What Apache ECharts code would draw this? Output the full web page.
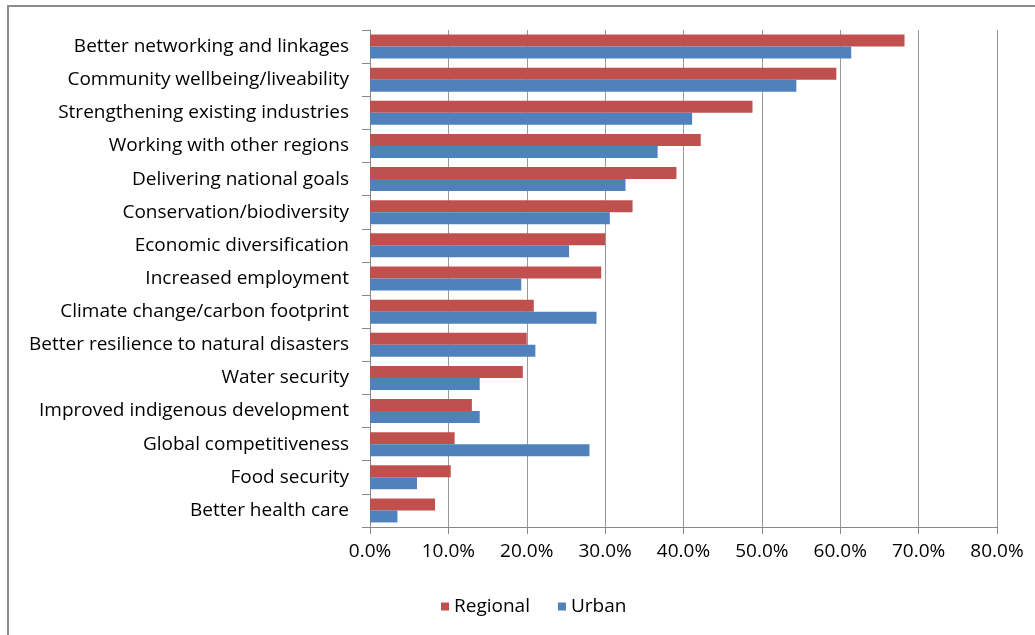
<!DOCTYPE html>
<html>
<head>
<meta charset="utf-8">
<script src="https://cdn.jsdelivr.net/npm/echarts@6/dist/echarts.min.js"></script>
<style>
html,body{margin:0;padding:0;background:#fff;}
#chart{width:1035px;height:635px;}
</style>
</head>
<body>
<div id="chart"></div>
<script>
const categories = [
  "Better networking and linkages",
  "Community wellbeing/liveability",
  "Strengthening existing industries",
  "Working with other regions",
  "Delivering national goals",
  "Conservation/biodiversity",
  "Economic diversification",
  "Increased employment",
  "Climate change/carbon footprint",
  "Better resilience to natural disasters",
  "Water security",
  "Improved indigenous development",
  "Global competitiveness",
  "Food security",
  "Better health care"
];
const regional = [68.2, 59.5, 48.8, 42.2, 39.1, 33.5, 30.0, 29.5, 20.9, 20.0, 19.5, 13.0, 10.8, 10.3, 8.3];
const urban    = [61.4, 54.4, 41.1, 36.7, 32.6, 30.6, 25.4, 19.3, 28.9, 21.1, 14.0, 14.0, 28.0, 6.0, 3.5];
const xTicks = { min: 0, max: 80, interval: 10 };

const FONT = "'Open Sans', 'Noto Sans', sans-serif";
const chart = echarts.init(document.getElementById('chart'));
chart.setOption({
  animation: false,
  backgroundColor: '#ffffff',
  textStyle: { fontFamily: FONT },
  graphic: [{
    type: 'rect',
    shape: { x: 8, y: 6, width: 1100, height: 700 },
    style: { fill: 'none', stroke: '#8c8c8c', lineWidth: 2 },
    silent: true
  }],
  grid: { left: 370, right: 38, top: 30, bottom: 108, containLabel: false },
  legend: {
    data: ['Regional', 'Urban'],
    left: 436, top: 592,
    icon: 'rect', itemWidth: 8, itemHeight: 8, itemGap: 28,
    textStyle: { fontSize: 19, color: '#000', fontFamily: FONT }
  },
  xAxis: {
    type: 'value',
    min: xTicks.min, max: xTicks.max, interval: xTicks.interval,
    axisLine: { show: true, lineStyle: { color: '#888', width: 1 } },
    axisTick: { show: true, length: 7, lineStyle: { color: '#888' } },
    splitLine: { show: true, lineStyle: { color: '#999', width: 1 } },
    axisLabel: {
      margin: 15, fontSize: 19, color: '#000', fontFamily: FONT,
      formatter: v => v.toFixed(1) + '%'
    }
  },
  yAxis: {
    type: 'category',
    data: categories,
    inverse: true,
    axisLine: { show: true, lineStyle: { color: '#888', width: 1 } },
    axisTick: { show: true, length: 8, lineStyle: { color: '#888' } },
    axisLabel: { margin: 21, fontSize: 19, color: '#000', fontFamily: FONT }
  },
  series: [
    { name: 'Regional', type: 'bar', data: regional, barWidth: 12, barGap: '0%',
      itemStyle: { color: '#C0504D' } },
    { name: 'Urban', type: 'bar', data: urban, barWidth: 12, barGap: '0%',
      itemStyle: { color: '#4F81BD' } }
  ]
});
</script>
</body>
</html>
